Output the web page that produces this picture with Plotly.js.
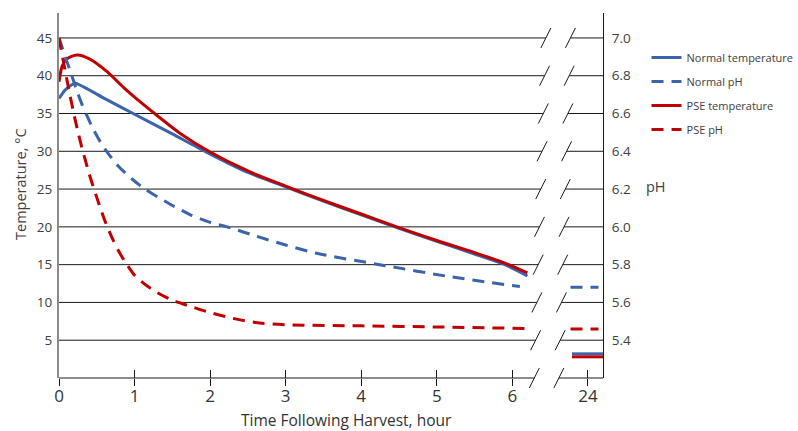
<!DOCTYPE html>
<html>
<head>
<meta charset="utf-8">
<script src="https://cdn.plot.ly/plotly-3.0.1.min.js"></script>
<style>
  html, body { margin: 0; padding: 0; background: #ffffff; }
  #chart { width: 798px; height: 431px; }
</style>
</head>
<body>
<div id="chart"></div>
<script>
// ---------------- data ----------------
const hoursNormalTemp = [0, 0.08, 0.17, 0.22, 0.6, 1.0, 1.5, 1.95, 2.5, 3.0, 3.5, 4.0, 4.5, 5.0, 5.5, 5.9, 6.2];
const normalTemp      = [37.0, 38.1, 38.8, 39.0, 37.0, 34.9, 32.3, 29.9, 27.2, 25.3, 23.4, 21.6, 19.8, 18.1, 16.4, 15.0, 13.5];

const hoursNormalPH = [0, 0.05, 0.1, 0.16, 0.23, 0.3, 0.37, 0.45, 0.55, 0.63, 0.78, 0.97, 1.14, 1.47, 1.74, 2.0, 2.26, 2.6, 3.0, 3.41, 4.3, 5.18, 6.1];
const normalPH      = [7.00, 6.94, 6.88, 6.812, 6.728, 6.652, 6.588, 6.52, 6.448, 6.40, 6.324, 6.252, 6.20, 6.12, 6.064, 6.024, 5.996, 5.952, 5.904, 5.86, 5.796, 5.736, 5.684];

const hoursPseTemp = [0, 0.04, 0.1, 0.24, 0.41, 0.64, 0.86, 1.08, 1.29, 1.6, 2.0, 2.5, 3.0, 3.5, 4.0, 4.5, 5.0, 5.5, 5.9, 6.2];
const pseTemp      = [39.2, 41.2, 42.2, 42.75, 42.2, 40.5, 38.4, 36.5, 34.8, 32.4, 29.9, 27.4, 25.4, 23.5, 21.7, 19.9, 18.2, 16.6, 15.2, 13.9];

const hoursPsePH = [0, 0.05, 0.1, 0.15, 0.2, 0.25, 0.3, 0.4, 0.5, 0.6, 0.7, 0.8, 0.9, 1.0, 1.15, 1.3, 1.5, 1.75, 2.0, 2.3, 2.6, 3.0, 4.0, 5.0, 6.2];
const psePH      = [7.00, 6.892, 6.788, 6.688, 6.592, 6.504, 6.424, 6.28, 6.156, 6.04, 5.944, 5.864, 5.80, 5.744, 5.692, 5.652, 5.612, 5.578, 5.546, 5.516, 5.494, 5.482, 5.476, 5.47, 5.462];

// values at 24 h (after the axis break)
const lateHour     = 24;
const normalTemp24 = 3.2;
const pseTemp24    = 2.8;
const normalPH24   = 5.68;
const psePH24      = 5.46;

const xTickHours = [0, 1, 2, 3, 4, 5, 6, 24];
const tempTicks  = [5, 10, 15, 20, 25, 30, 35, 40, 45];
const phTicks    = [5.4, 5.6, 5.8, 6.0, 6.2, 6.4, 6.6, 6.8, 7.0];

const seriesNames = ["Normal temperature", "Normal pH", "PSE temperature", "PSE pH"];

// ---------------- layout helpers ----------------
const BLUE = "#3B64AA";
const RED  = "#C00000";
const FONT = "'Open Sans', 'DejaVu Sans', sans-serif";
const TXT  = "#404040";

const breakAfter = 6;            // hours 0..6 are on a linear scale
const xMax = 7.2;                // axis extent (24 h sits one unit past 6)
const tempMax = 48.3;
const phMin = 5.2, phPerDeg = 0.04;   // right axis: pH = 5.2 + 0.04 * temperature
const phMax = phMin + tempMax * phPerDeg;

function hourPos(h) { return h > breakAfter + 1 ? breakAfter + 1 : h; }

// short horizontal stubs drawn at the 24 h position
const lateSolidSpan = [-0.21, 0.2];
const lateDashSpan  = [-0.23, 0.14];

function withLate(hours, vals, lateVal, span) {
  const p = hourPos(lateHour);
  return {
    x: hours.map(hourPos).concat([null, p + span[0], p + span[1]]),
    y: vals.concat([null, lateVal, lateVal])
  };
}

const nT = withLate(hoursNormalTemp, normalTemp, normalTemp24, lateSolidSpan);
const nP = withLate(hoursNormalPH, normalPH, normalPH24, lateDashSpan);
const pT = withLate(hoursPseTemp, pseTemp, pseTemp24, lateSolidSpan);
const pP = withLate(hoursPsePH, psePH, psePH24, lateDashSpan);

const DASH = "12px,8px";
const traces = [
  { x: nT.x, y: nT.y, name: seriesNames[0], type: "scatter", mode: "lines", yaxis: "y",
    line: { color: BLUE, width: 3, shape: "spline", smoothing: 0.5 }, legendgroup: "a", connectgaps: false },
  { x: nP.x, y: nP.y, name: seriesNames[1], type: "scatter", mode: "lines", yaxis: "y2",
    line: { color: BLUE, width: 3, dash: DASH, shape: "spline", smoothing: 0.8 }, legendgroup: "b", connectgaps: false },
  { x: pT.x, y: pT.y, name: seriesNames[2], type: "scatter", mode: "lines", yaxis: "y",
    line: { color: RED, width: 3, shape: "spline", smoothing: 0.8 }, legendgroup: "c", connectgaps: false },
  { x: pP.x, y: pP.y, name: seriesNames[3], type: "scatter", mode: "lines", yaxis: "y2",
    line: { color: RED, width: 3, dash: DASH, shape: "spline", smoothing: 0.8 }, legendgroup: "d", connectgaps: false }
];

// ---------------- gridlines with the axis break ----------------
const plotHpx = 365, pxPerHour = 75.5;
function breakLeft(t)  { return 6.291 + (t / 45) * 0.153; }
function breakRight(t) { return breakLeft(t) + 0.325; }
const slashDx = 5 / pxPerHour, slashDy = 10 / plotHpx;

const shapes = [];
tempTicks.forEach(t => {
  const yp = t / tempMax;
  shapes.push({ type: "line", xref: "x", yref: "paper", x0: 0, x1: breakLeft(t), y0: yp, y1: yp,
                line: { color: "#1a1a1a", width: 1 }, layer: "below" });
  shapes.push({ type: "line", xref: "x", yref: "paper", x0: breakRight(t), x1: xMax, y0: yp, y1: yp,
                line: { color: "#1a1a1a", width: 1 }, layer: "below" });
});
// bottom axis line with break
shapes.push({ type: "line", xref: "x", yref: "paper", x0: 0, x1: breakLeft(0), y0: 0, y1: 0,
              line: { color: "#1a1a1a", width: 1 } });
shapes.push({ type: "line", xref: "x", yref: "paper", x0: breakRight(0), x1: xMax, y0: 0, y1: 0,
              line: { color: "#1a1a1a", width: 1 } });
// break slashes
[0].concat(tempTicks).forEach(t => {
  const yp = t / tempMax;
  [breakLeft(t), breakRight(t)].forEach(cx => {
    shapes.push({ type: "line", xref: "x", yref: "paper",
                  x0: cx - slashDx, x1: cx + slashDx, y0: yp - slashDy, y1: yp + slashDy,
                  line: { color: "#1a1a1a", width: 1 } });
  });
});

const layout = {
  width: 798, height: 431,
  margin: { l: 59, r: 195, t: 13, b: 53, pad: 0, autoexpand: false },
  paper_bgcolor: "#ffffff", plot_bgcolor: "#ffffff",
  font: { family: FONT, color: TXT },
  showlegend: true,
  legend: {
    x: 1.080, xanchor: "left", y: 0.918, yanchor: "top",
    font: { family: FONT, size: 11, color: TXT },
    bgcolor: "rgba(0,0,0,0)", tracegroupgap: 5, traceorder: "grouped"
  },
  xaxis: {
    range: [0, xMax], showgrid: false, zeroline: false, showline: false,
    tickmode: "array", tickvals: xTickHours.map(hourPos), ticktext: xTickHours.map(String),
    ticks: "outside", ticklen: 7, tickcolor: "#1a1a1a", tickwidth: 1, ticklabelstandoff: -4,
    tickfont: { family: FONT, size: 17, color: "#333333" }, fixedrange: true
  },
  xaxis2: {
    overlaying: "x", range: [0, xMax], showgrid: false, zeroline: false, showline: false,
    tickmode: "array", tickvals: xTickHours.map(hourPos), ticks: "inside", ticklen: 8,
    tickcolor: "#1a1a1a", tickwidth: 1, showticklabels: false
  },
  yaxis: {
    range: [0, tempMax], showgrid: false, zeroline: false,
    showline: true, linecolor: "#8a8a8a", linewidth: 2,
    tickmode: "array", tickvals: tempTicks, ticktext: tempTicks.map(String),
    ticks: "", ticklabelstandoff: 2,
    tickfont: { family: FONT, size: 13.5, color: TXT }
  },
  yaxis2: {
    overlaying: "y", side: "right", range: [phMin, phMax],
    showgrid: false, zeroline: false, showline: true, linecolor: "#1a1a1a", linewidth: 1,
    tickmode: "array", tickvals: phTicks, ticktext: phTicks.map(v => v.toFixed(1)),
    ticks: "", ticklabelstandoff: 5,
    tickfont: { family: FONT, size: 13.5, color: TXT }
  },
  shapes: shapes,
  annotations: [
    { text: "Temperature, °C", xref: "paper", yref: "paper", x: -0.0717, y: 0.5315,
      textangle: -90, showarrow: false, xanchor: "center", yanchor: "middle",
      font: { family: FONT, size: 14.5, color: TXT } },
    { text: "pH", xref: "paper", yref: "paper", x: 1.0974, y: 0.5233,
      showarrow: false, xanchor: "center", yanchor: "middle",
      font: { family: FONT, size: 14.5, color: TXT } },
    { text: "Time Following Harvest, hour", xref: "paper", yref: "paper", x: 0.5294, y: -0.0795,
      showarrow: false, xanchor: "center", yanchor: "top",
      font: { family: FONT, size: 15.5, color: "#333333" } }
  ]
};

// an empty trace on xaxis2 so the inner tick marks are drawn
traces.push({ x: [0], y: [null], xaxis: "x2", yaxis: "y", type: "scatter", mode: "lines",
              showlegend: false, hoverinfo: "skip" });

Plotly.newPlot("chart", traces, layout, { displayModeBar: false, staticPlot: true });
</script>
</body>
</html>
